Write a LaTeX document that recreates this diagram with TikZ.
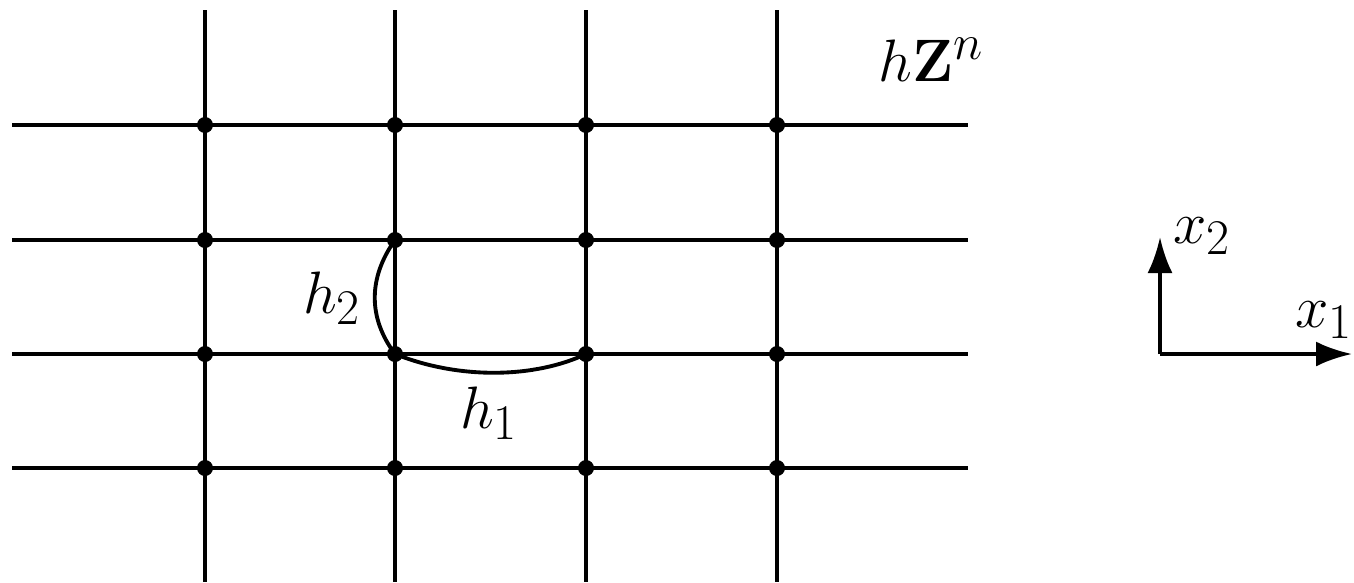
\documentclass[tikz,border=0pt]{standalone}
\usepackage{amsmath,amssymb}
\usepackage{graphicx}
\usepackage{tikz}
\usetikzlibrary{arrows.meta,positioning,calc}
\newcommand{\biglab}[1]{\scalebox{1.37}{$#1$}}

\begin{document}
\begin{tikzpicture}[x=0.02cm,y=-0.02cm,line width=2.2pt,every node/.style={font=\Huge},
    dot/.style={circle,fill=black,inner sep=0pt,minimum size=0.32cm}]
    \useasboundingbox (0,0) rectangle (1354,582);
    % grid lines
    \foreach \x in {205,395,586,777} \draw (\x,10)--(\x,582);
    \foreach \y in {125,240,354,468} \draw (12,\y)--(968,\y);
    % lattice points
    \foreach \x [count=\i] in {205,395,586,777}
      \foreach \y [count=\j] in {125,240,354,468}
        \node[dot] (p\i\j) at (\x,\y) {};
    \node (lattice) at (931,60) {\biglab{h\mathbf{Z}^n}};
    % steps
    \draw (p22.center) .. controls (368,278) and (368,318) .. (p23.center);
    \draw (p23.center) .. controls (460,380) and (535,378) .. (p33.center);
    \node (htwo) at (332,298) {\biglab{h_2}};
    \node (hone) at (489,413) {\biglab{h_1}};
    % axes
    \coordinate (origin) at (1160,354);
    \coordinate (xtwo) at (1160,237);
    \coordinate (xone) at (1352,354);
    \draw[-{Latex[length=0.72cm,width=0.5cm]}] (origin)--(xtwo);
    \draw[-{Latex[length=0.72cm,width=0.5cm]}] (origin)--(xone);
    \node (labtwo) at (1202,236) {\biglab{x_2}};
    \node (labone) at (1324,320) {\biglab{x_1}};
  \end{tikzpicture}
\end{document}
